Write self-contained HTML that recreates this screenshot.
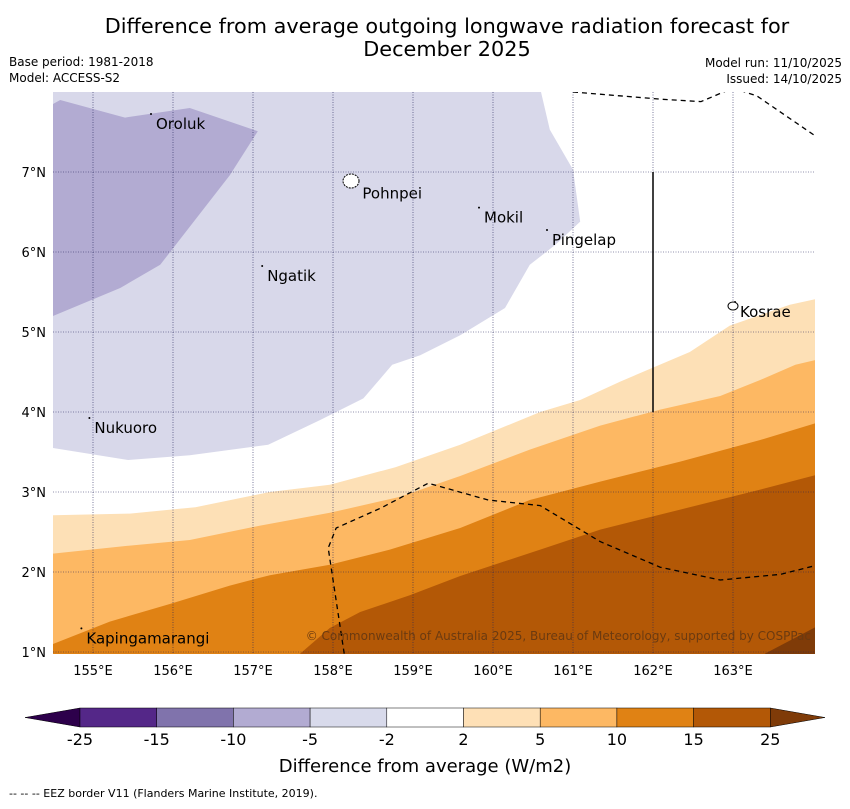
<!DOCTYPE html>
<html><head><meta charset="utf-8"><style>
body{margin:0;background:#fff;font-family:"Liberation Sans","DejaVu Sans",sans-serif;}
svg text{font-family:"DejaVu Sans","Liberation Sans",sans-serif;}
</style></head><body>
<svg id="chart" width="850" height="804" viewBox="0 0 850 804" xmlns="http://www.w3.org/2000/svg">
<text x="447" y="33" font-size="20.8" text-anchor="middle">Difference from average outgoing longwave radiation forecast for</text>
<text x="447" y="56" font-size="20.8" text-anchor="middle">December 2025</text>
<text x="9" y="66" font-size="12">Base period: 1981-2018</text>
<text x="9" y="82" font-size="12">Model: ACCESS-S2</text>
<text x="842" y="67" font-size="12" text-anchor="end">Model run: 11/10/2025</text>
<text x="842" y="83" font-size="12" text-anchor="end">Issued: 14/10/2025</text>
<defs><clipPath id="pc"><rect x="53" y="92" width="762" height="562"/></clipPath></defs>
<g id="plot" clip-path="url(#pc)"></g>
<g id="axes"></g>
<g id="cbar"></g>
<text x="425" y="772" font-size="18" text-anchor="middle">Difference from average (W/m2)</text>
<text x="9" y="797" font-size="11">--  --  -- EEZ border V11 (Flanders Marine Institute, 2019).</text>
</svg>
<script>
const lonTicks=[155,156,157,158,159,160,161,162,163];
const latTicks=[1,2,3,4,5,6,7];
const lavenderLon=[160.6,160.71,161.0,161.09,160.78,160.46,160.15,159.59,159.09,158.74,158.38,157.84,157.19,156.21,155.44,154.5];
const lavenderLat=[8.0,7.53,7.03,6.38,6.09,5.84,5.3,4.96,4.71,4.59,4.17,3.9,3.59,3.46,3.4,3.55];
const purpleLon=[154.5,154.59,155.4,156.21,157.06,156.71,155.84,155.34,154.5];
const purpleLat=[7.85,7.9,7.68,7.8,7.51,6.96,5.84,5.55,5.2];
const b2Lon=[154.5,155.46,156.28,157.21,157.96,158.78,159.59,160.59,161.09,161.59,162.46,162.96,163.71,164.03];
const b2Lat=[2.71,2.73,2.81,3.0,3.09,3.31,3.59,4.0,4.15,4.38,4.75,5.08,5.34,5.41];
const b5Lon=[154.5,155.46,156.21,157.09,157.96,158.84,159.59,160.46,161.34,162.09,162.84,163.34,163.78,164.03];
const b5Lat=[2.23,2.33,2.4,2.58,2.74,2.94,3.2,3.53,3.83,4.03,4.2,4.4,4.59,4.65];
const b10Lon=[154.5,155.21,155.96,156.71,157.21,157.96,158.71,159.59,160.46,161.34,162.34,163.34,164.03];
const b10Lat=[1.1,1.38,1.6,1.83,1.96,2.09,2.28,2.55,2.9,3.13,3.38,3.65,3.86];
const b15Lon=[157.59,157.96,158.34,158.96,159.59,160.59,161.34,162.34,163.34,164.03];
const b15Lat=[0.98,1.3,1.5,1.71,1.95,2.28,2.53,2.78,3.03,3.21];
const b25Lon=[163.4,164.03];
const b25Lat=[0.98,1.31];
const eezLon=[158.14,157.94,158.04,158.6,159.19,159.94,160.59,161.34,162.09,162.84,163.59,164.03];
const eezLat=[0.98,2.3,2.55,2.8,3.11,2.9,2.83,2.38,2.06,1.9,1.97,2.08];
const eezTopLon=[161.0,162.1,162.6,163.0,163.3,164.03];
const eezTopLat=[8.0,7.91,7.88,8.05,7.95,7.45];
const placeNames=["Oroluk","Pohnpei","Mokil","Pingelap","Ngatik","Kosrae","Nukuoro","Kapingamarangi"];
const placeLon=[155.75,158.33,159.85,160.7,157.14,163.05,154.98,154.88];
const placeLat=[7.65,6.78,6.48,6.2,5.75,5.3,3.85,1.22];
const cbLabels=["-25","-15","-10","-5","-2","2","5","10","15","25"];
const cbColors=["#542788","#8073ac","#b2abd2","#d8daeb","#ffffff","#fee0b6","#fdb863","#e08214","#b35806"];

const X=lon=>53+(lon-154.5)*80, Y=lat=>92+(8-lat)*80;
const NS="http://www.w3.org/2000/svg";
function mk(t,a,p){const e=document.createElementNS(NS,t);for(const k in a)e.setAttribute(k,a[k]);p.appendChild(e);return e;}
const plot=document.getElementById('plot'),axes=document.getElementById('axes'),cb=document.getElementById('cbar');
function pts(lo,la){return lo.map((v,i)=>X(v)+','+Y(la[i])).join(' ');}

let e;
e=mk('polygon',{points:pts(lavenderLon,lavenderLat)+' '+X(154.5)+','+Y(8.1),fill:'#d8d8ea'},plot);

e=mk('polygon',{points:pts(purpleLon,purpleLat),fill:'#b2abd2'},plot);

[[b2Lon,b2Lat,'#fde0b6','region-2-5'],[b5Lon,b5Lat,'#fdb863','region-5-10'],[b10Lon,b10Lat,'#e08214','region-10-15'],[b15Lon,b15Lat,'#b35806','region-15-25'],[b25Lon,b25Lat,'#7f3b08','region-over-25']].forEach(r=>{
 const p=mk('polygon',{points:pts(r[0],r[1])+' '+X(164.2)+','+Y(r[1][r[1].length-1])+' '+X(164.2)+','+Y(0.8)+' '+X(r[0][0])+','+Y(0.8),fill:r[2]},plot);
 
 
});
lonTicks.forEach(v=>{const l=mk('line',{x1:X(v),x2:X(v),y1:92,y2:654,stroke:'#22225a',"stroke-width":0.6,"stroke-dasharray":'1,1.5'},plot);
 
 const t=mk('text',{x:X(v),y:675,"font-size":13,"text-anchor":'middle'},axes);t.textContent=v+'°E';
 });
latTicks.forEach(v=>{const l=mk('line',{x1:53,x2:815,y1:Y(v),y2:Y(v),stroke:'#22225a',"stroke-width":0.6,"stroke-dasharray":'1,1.5'},plot);
 
 const t=mk('text',{x:46,y:Y(v)+5,"font-size":13,"text-anchor":'end'},axes);t.textContent=v+'°N';
 });
e=mk('polyline',{points:pts(eezLon,eezLat),fill:'none',stroke:'#000',"stroke-width":1.3,"stroke-dasharray":'5,4'},plot);

e=mk('polyline',{points:pts(eezTopLon,eezTopLat),fill:'none',stroke:'#000',"stroke-width":1.3,"stroke-dasharray":'5,4'},plot);

e=mk('line',{x1:X(162),x2:X(162),y1:Y(7),y2:Y(4),stroke:'#000',"stroke-width":1.5},plot);

placeNames.forEach((n,i)=>{const t=mk('text',{x:X(placeLon[i])+3,y:Y(placeLat[i])+9,"font-size":15},plot);t.textContent=n;
 
 const d=mk('circle',{cx:X(placeLon[i])-2,cy:Y(placeLat[i])-6,r:1,fill:'#000'},plot);
 });
e=mk('ellipse',{cx:351,cy:181,rx:8,ry:7,fill:'#fff',stroke:'#000',"stroke-dasharray":'2,1'},plot);

e=mk('ellipse',{cx:733,cy:306,rx:5,ry:4,fill:'#fff',stroke:'#000'},plot);

e=mk('text',{x:811,y:640,"font-size":12,"text-anchor":'end',fill:'#6b3a10'},plot);e.textContent='© Commonwealth of Australia 2025, Bureau of Meteorology, supported by COSPPac';

const cx0=80,cw=76.7,cy=708,ch=19;
e=mk('polygon',{points:`${cx0},${cy} ${cx0},${cy+ch} 25,${cy+ch/2}`,fill:'#2d004b',stroke:'#000',"stroke-width":0.5},cb);

cbColors.forEach((c,i)=>{const r=mk('rect',{x:cx0+i*cw,y:cy,width:cw,height:ch,fill:c,stroke:'#000',"stroke-width":0.5},cb);
 });
const cx1=cx0+cbColors.length*cw;
e=mk('polygon',{points:`${cx1},${cy} ${cx1},${cy+ch} 825,${cy+ch/2}`,fill:'#7f3b08',stroke:'#000',"stroke-width":0.5},cb);

cbLabels.forEach((l,i)=>{const t=mk('text',{x:cx0+i*cw,y:745,"font-size":16,"text-anchor":'middle'},cb);t.textContent=l;
 });
</script>
</body></html>
